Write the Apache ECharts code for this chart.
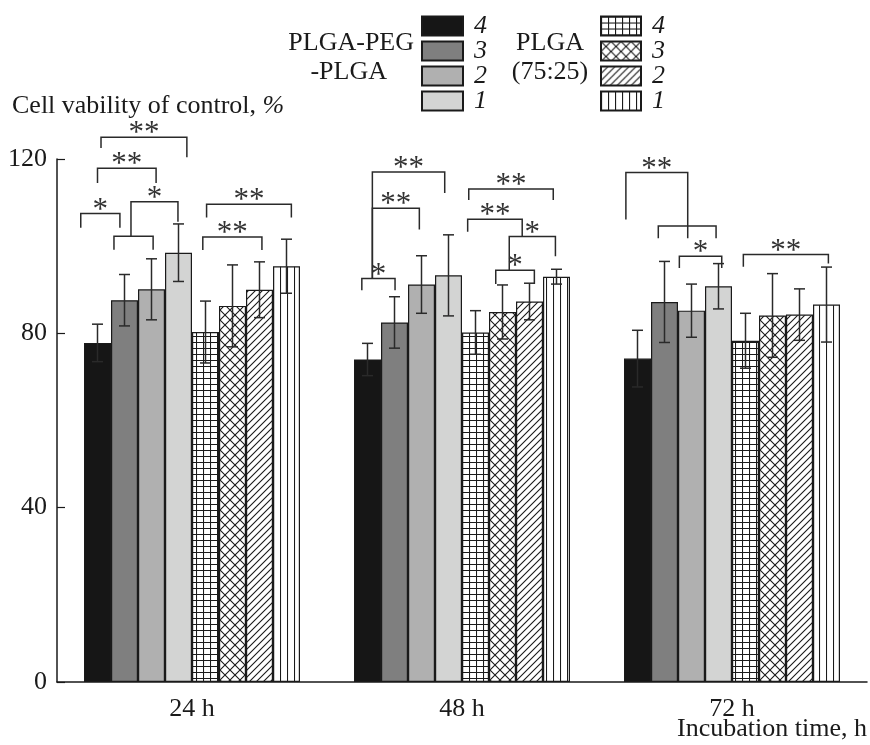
<!DOCTYPE html>
<html>
<head>
<meta charset="utf-8">
<script src="https://cdn.jsdelivr.net/npm/echarts@6/dist/echarts.min.js"></script>
<style>
  html, body { margin: 0; padding: 0; background: #fff; }
  #chart { width: 870px; height: 745px; }
</style>
</head>
<body>
<div id="chart"></div>
<script>
// categories (incubation time)
const categories = ['24 h', '48 h', '72 h'];

// PLGA-PEG-PLGA, samples 4..1
const pegNames = ['PLGA-PEG-PLGA 4', 'PLGA-PEG-PLGA 3', 'PLGA-PEG-PLGA 2', 'PLGA-PEG-PLGA 1'];
const pegMeans = [
  [77.8, 74.0, 74.2],
  [87.6, 82.5, 87.2],
  [90.1, 91.2, 85.2],
  [98.5, 93.3, 90.8]
];
const pegSd = [
  [4.3, 3.7, 6.5],
  [5.9, 5.9, 9.3],
  [7.0, 6.6, 6.1],
  [6.6, 9.3, 5.2]
];

// PLGA (75:25), samples 4..1
const plgaNames = ['PLGA (75:25) 4', 'PLGA (75:25) 3', 'PLGA (75:25) 2', 'PLGA (75:25) 1'];
const plgaMeans = [
  [80.3, 80.2, 78.3],
  [86.3, 84.9, 84.1],
  [90.0, 87.3, 84.3],
  [95.4, 93.0, 86.6]
];
const plgaSd = [
  [7.1, 5.0, 6.3],
  [9.4, 6.2, 9.6],
  [6.4, 4.2, 5.9],
  [6.2, 1.7, 8.6]
];

// significance brackets: [category, from bar, to bar, line level, left leg end, right leg end, mark]
const brackets = [
  [0, 0.13, 3.31, 125.0, 122.5, 120.4, '**'],
  [0, 0.0, 2.17, 117.9, 114.5, 114.5, '**'],
  [0, -0.62, 0.83, 107.5, 104.2, 104.2, '*'],
  [0, 1.24, 2.98, 110.2, 102.3, 105.6, '*'],
  [0, 0.61, 2.06, 102.3, 99.2, 99.2, ''],
  [0, 3.9, 6.09, 102.1, 99.1, 99.1, '**'],
  [0, 4.04, 7.18, 109.6, 106.6, 106.6, '**'],
  [1, 0.18, 2.86, 117.0, 92.6, 112.2, '**'],
  [1, 0.18, 1.92, 108.7, 92.6, 103.8, '**'],
  [1, -0.21, 1.02, 92.6, 89.9, 89.9, '*'],
  [1, 3.75, 6.88, 113.1, 110.6, 110.6, '**'],
  [1, 3.71, 5.73, 106.2, 103.3, 102.2, '**'],
  [1, 5.25, 6.96, 102.2, 94.5, 97.7, '*'],
  [1, 4.75, 6.18, 94.5, 91.3, 91.3, '*'],
  [2, -0.43, 1.86, 116.9, 106.1, 101.8, '**'],
  [2, 0.77, 2.91, 104.6, 101.8, 101.8, ''],
  [2, 1.55, 3.12, 97.7, 95.0, 95.0, '*'],
  [2, 3.92, 7.07, 98.1, 95.3, 96.0, '**']
];

const FONT = 'Liberation Serif';
const INK = '#1a1a1a';

// hatch patterns for the PLGA (75:25) bars
function pattern(kind) {
  const c = document.createElement('canvas');
  const ctx = c.getContext('2d');
  let w = 7, h = 7;
  if (kind === 'grid') { w = 7; h = 6; }
  if (kind === 'cross') { w = 10; h = 10; }
  if (kind === 'vert') { w = 7; h = 4; }
  c.width = w; c.height = h;
  ctx.fillStyle = '#fff';
  ctx.fillRect(0, 0, w, h);
  ctx.strokeStyle = INK;
  ctx.lineWidth = 1.1;
  ctx.beginPath();
  if (kind === 'grid') {
    ctx.moveTo(0.5, 0); ctx.lineTo(0.5, h);
    ctx.moveTo(0, 0.5); ctx.lineTo(w, 0.5);
  } else if (kind === 'cross') {
    ctx.moveTo(0, 0); ctx.lineTo(w, h);
    ctx.moveTo(0, h); ctx.lineTo(w, 0);
  } else if (kind === 'diag') {
    ctx.moveTo(-1, h + 1); ctx.lineTo(w + 1, -1);
    ctx.moveTo(-1, 1); ctx.lineTo(1, -1);
    ctx.moveTo(w - 1, h + 1); ctx.lineTo(w + 1, h - 1);
  } else {
    ctx.moveTo(0.5, 0); ctx.lineTo(0.5, h);
  }
  ctx.stroke();
  return { image: c, repeat: 'repeat' };
}

const names = pegNames.concat(plgaNames);
const means = pegMeans.concat(plgaMeans);
const sds = pegSd.concat(plgaSd);
const fills = ['#161616', '#7f7f7f', '#b0b0b0', '#d3d4d3',
  pattern('grid'), pattern('cross'), pattern('diag'), pattern('vert')];

const errData = [];
means.forEach((row, s) => {
  row.forEach((m, c) => errData.push([c, s, m - sds[s][c], m + sds[s][c]]));
});

// bar centre inside a category band (8 bars, 20% category gap)
function barX(api, cat, pos) {
  const band = api.size([1, 0])[0];
  const bw = band * 0.8 / 8;
  return api.coord([cat, 0])[0] + (pos - 3.5) * bw;
}

const chart = echarts.init(document.getElementById('chart'));

const series = names.map((n, i) => ({
  type: 'bar',
  name: n,
  data: means[i],
  barGap: '0%',
  barCategoryGap: '20%',
  itemStyle: { color: fills[i], borderColor: INK, borderWidth: 1.2 },
  z: 2
}));

series.push({
  type: 'custom',
  name: 'err',
  data: errData,
  z: 5,
  clip: false,
  encode: { x: 0, y: [2, 3] },
  renderItem: function (params, api) {
    const x = barX(api, api.value(0), api.value(1));
    const lo = api.coord([api.value(0), api.value(2)])[1];
    const hi = api.coord([api.value(0), api.value(3)])[1];
    const st = { stroke: '#2a2a2a', lineWidth: 1.5 };
    return {
      type: 'group',
      children: [
        { type: 'line', shape: { x1: x, y1: lo, x2: x, y2: hi }, style: st },
        { type: 'line', shape: { x1: x - 5.5, y1: hi, x2: x + 5.5, y2: hi }, style: st },
        { type: 'line', shape: { x1: x - 5.5, y1: lo, x2: x + 5.5, y2: lo }, style: st }
      ]
    };
  }
});

series.push({
  type: 'custom',
  name: 'sig',
  data: brackets.map(b => b.slice(0, 6)),
  z: 6,
  clip: false,
  encode: { x: 0, y: 3 },
  renderItem: function (params, api) {
    const b = brackets[params.dataIndex];
    const xl = barX(api, b[0], b[1]);
    const xr = barX(api, b[0], b[2]);
    const yl = api.coord([b[0], b[3]])[1];
    const y1 = api.coord([b[0], b[4]])[1];
    const y2 = api.coord([b[0], b[5]])[1];
    const kids = [{
      type: 'polyline',
      shape: { points: [[xl, y1], [xl, yl], [xr, yl], [xr, y2]] },
      style: { stroke: '#2a2a2a', lineWidth: 1.5, fill: null }
    }];
    if (b[6]) {
      kids.push({
        type: 'text',
        x: (xl + xr) / 2,
        y: yl - 3,
        style: {
          text: b[6], fill: '#333', font: '31px "' + FONT + '"',
          align: 'center', verticalAlign: 'middle'
        }
      });
    }
    return { type: 'group', children: kids };
  }
});

const legendBase = {
  orient: 'vertical',
  top: 13,
  itemHeight: 19,
  itemGap: -1,
  padding: 0,
  icon: 'rect',
  selectedMode: false,
  formatter: n => n.split(' ').pop(),
  textStyle: {
    fontFamily: FONT, fontSize: 26, fontStyle: 'italic', color: INK,
    padding: [0, 0, 0, 6]
  }
};

chart.setOption({
  animation: false,
  backgroundColor: '#fff',
  grid: { left: 57, right: 3, top: 159, bottom: 63 },
  legend: [
    Object.assign({}, legendBase, { data: pegNames, left: 421, itemWidth: 41 }),
    Object.assign({}, legendBase, { data: plgaNames, left: 600, itemWidth: 40 })
  ],
  xAxis: {
    type: 'category',
    data: categories,
    axisLine: { lineStyle: { color: INK, width: 1.5 } },
    axisTick: { alignWithLabel: true, length: 8, lineStyle: { color: INK, width: 1.2 } },
    axisLabel: { fontFamily: FONT, fontSize: 26, color: INK, margin: 14 }
  },
  yAxis: {
    type: 'value',
    min: 0,
    max: 120,
    interval: 40,
    splitLine: { show: false },
    axisLine: { show: true, lineStyle: { color: INK, width: 1.5 } },
    axisTick: { show: true, inside: true, length: 8, lineStyle: { color: INK, width: 1.2 } },
    axisLabel: { fontFamily: FONT, fontSize: 26, color: INK, margin: 10 }
  },
  graphic: [
    {
      type: 'text', left: 12, top: 93,
      style: {
        text: '{a|Cell vability of control, }{b|%}',
        rich: {
          a: { fontFamily: FONT, fontSize: 26, fill: INK },
          b: { fontFamily: FONT, fontSize: 26, fontStyle: 'italic', fill: INK }
        }
      }
    },
    {
      type: 'text', right: 3, top: 716,
      style: { text: 'Incubation time, h', font: '26px "' + FONT + '"', fill: INK }
    },
    {
      type: 'text', x: 414, y: 43,
      style: { text: 'PLGA-PEG', font: '26px "' + FONT + '"', fill: INK, align: 'right', verticalAlign: 'middle' }
    },
    {
      type: 'text', x: 387, y: 72,
      style: { text: '-PLGA', font: '26px "' + FONT + '"', fill: INK, align: 'right', verticalAlign: 'middle' }
    },
    {
      type: 'text', x: 550, y: 43,
      style: { text: 'PLGA', font: '26px "' + FONT + '"', fill: INK, align: 'center', verticalAlign: 'middle' }
    },
    {
      type: 'text', x: 550, y: 72,
      style: { text: '(75:25)', font: '26px "' + FONT + '"', fill: INK, align: 'center', verticalAlign: 'middle' }
    }
  ],
  series: series
});
</script>
</body>
</html>
